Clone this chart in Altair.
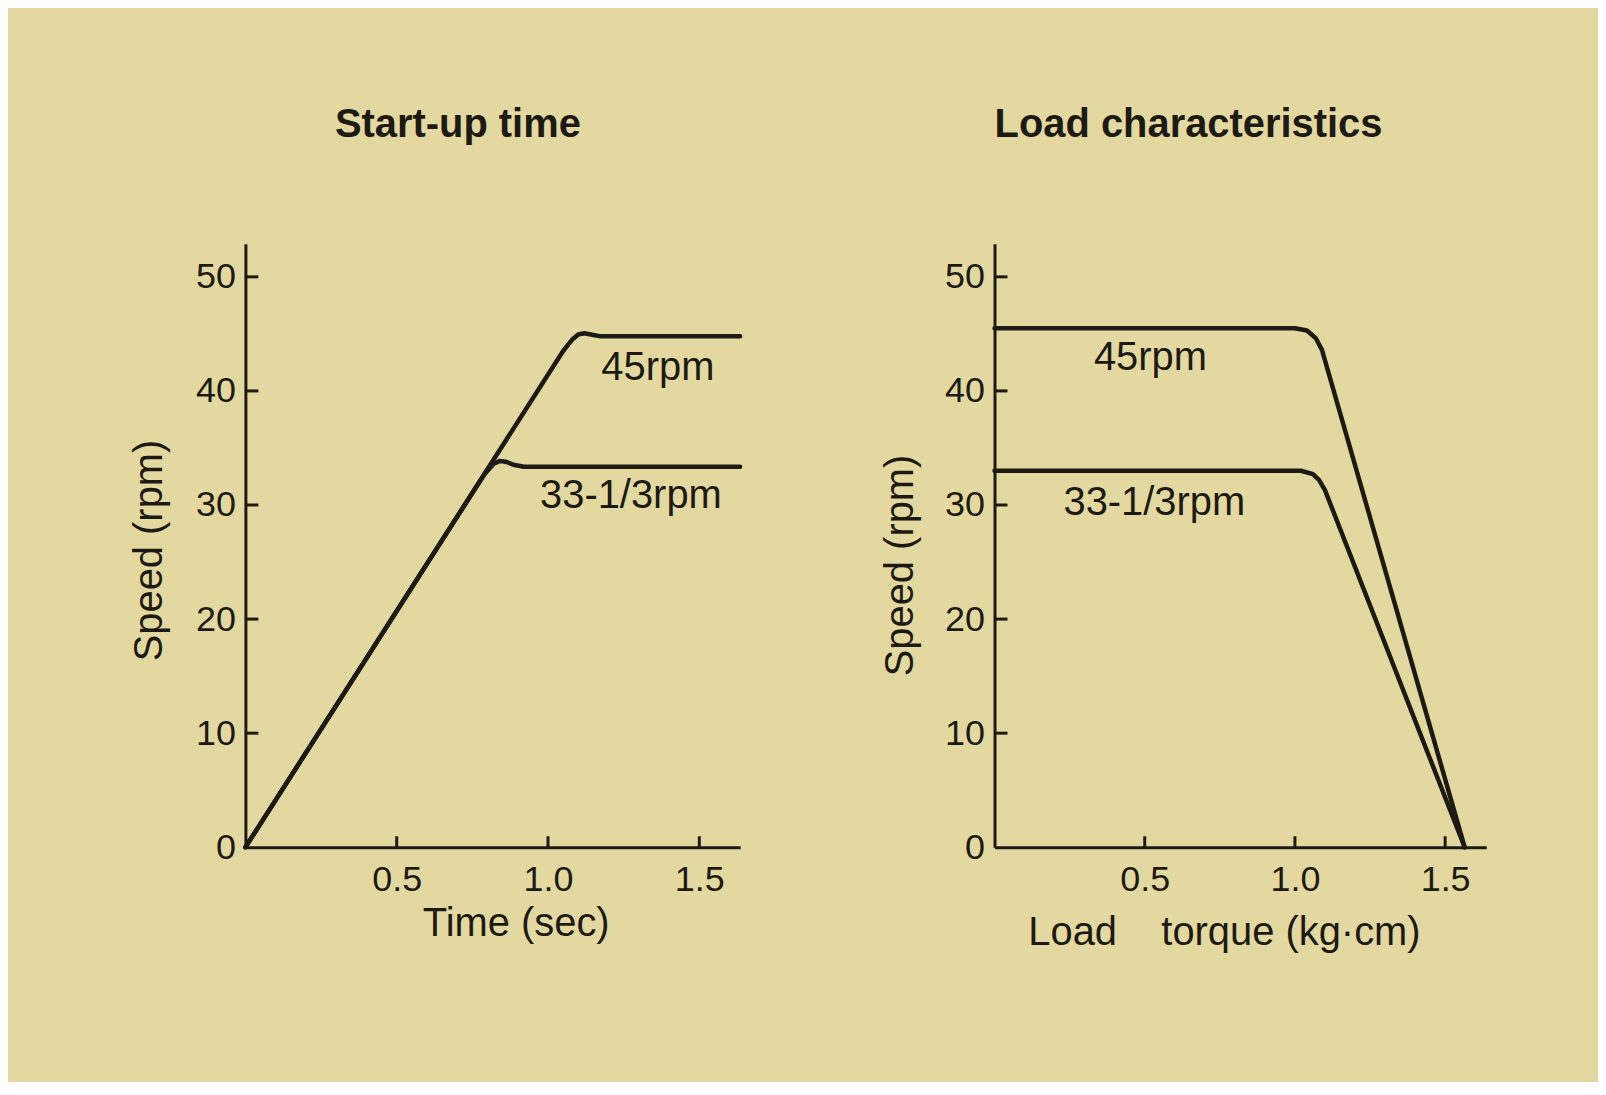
import altair as alt
import pandas as pd

# ---- data ----
# Start-up time (time in sec, speed in rpm)
startup_t_45 = [0, 1.05, 1.08, 1.10, 1.12, 1.15, 1.17, 1.635]
startup_s_45 = [0, 43.5, 44.5, 44.95, 45.05, 44.9, 44.8, 44.8]
startup_t_33 = [0, 0.79, 0.82, 0.84, 0.86, 0.89, 0.92, 1.635]
startup_s_33 = [0, 32.7, 33.6, 33.85, 33.8, 33.5, 33.35, 33.35]

# Load characteristics (load torque in kg·cm, speed in rpm)
load_x_45 = [0, 1.00, 1.04, 1.07, 1.09, 1.565]
load_s_45 = [45.5, 45.5, 45.3, 44.6, 43.6, 0]
load_x_33 = [0, 1.02, 1.06, 1.08, 1.10, 1.565]
load_s_33 = [33.0, 33.0, 32.7, 32.2, 31.3, 0]

series_names = ["45rpm", "33-1/3rpm"]
y_tick_values = [0, 10, 20, 30, 40, 50]
x_tick_values = [0.5, 1.0, 1.5]

# label anchors (x in data units; y taken from each series' plateau)
startup_label_x = [1.363, 1.274]
load_label_x = [0.519, 0.532]

INK = "#1d1a14"
BG = "#e3d9a0"
FONT = "Liberation Sans"
W_L, W_R, H = 496, 493, 605
Y_MAX = 52.9


def make_df(xs, ys, name):
    return pd.DataFrame({"x": xs, "y": ys, "series": name})


def panel(title, title_dx, w, x_max, series, plateau_idx, label_x, label_dy,
          x_title, x_title_x, x_title_y, y_title_x, y_title_y):
    xs = alt.Scale(domain=[0, x_max], nice=False, zero=False)
    ys = alt.Scale(domain=[0, Y_MAX], nice=False, zero=False)
    x_axis = alt.Axis(values=x_tick_values, format=".1f", title=x_title, ticks=False,
                      grid=False, domainColor=INK, domainWidth=3, labelFont=FONT,
                      labelFontSize=36, labelColor=INK, labelPadding=15,
                      labelOverlap=False, labelFlush=False,
                      titleFont=FONT, titleFontSize=40, titleFontWeight="normal",
                      titleColor=INK, titleX=x_title_x, titleY=x_title_y,
                      titleBaseline="alphabetic", titleAlign="center")
    y_axis = alt.Axis(values=y_tick_values, format="d", title="Speed (rpm)", ticks=False,
                      grid=False, domainColor=INK, domainWidth=3, labelFont=FONT,
                      labelFontSize=36, labelColor=INK, labelPadding=10,
                      labelOverlap=False, labelFlush=False,
                      titleFont=FONT, titleFontSize=40, titleFontWeight="normal",
                      titleColor=INK, titleX=y_title_x, titleY=y_title_y,
                      titleAngle=270, titleBaseline="middle", titleAlign="center")
    X = alt.X("x:Q", scale=xs, axis=x_axis)
    Y = alt.Y("y:Q", scale=ys, axis=y_axis)

    df = pd.concat([make_df(a, b, n) for (a, b), n in zip(series, series_names)])
    lines = alt.Chart(df).mark_line(color=INK, strokeWidth=4.5, strokeJoin="round",
                                    strokeCap="round").encode(x=X, y=Y, detail="series:N")

    ytk = alt.Chart(pd.DataFrame({"y": y_tick_values[1:]})).mark_rule(
        color=INK, strokeWidth=3).encode(y=Y, x=alt.value(0), x2=alt.value(13))
    xtk = alt.Chart(pd.DataFrame({"x": x_tick_values})).mark_rule(
        color=INK, strokeWidth=3).encode(x=X, y=alt.value(H), y2=alt.value(H - 11))

    layers = [lines, ytk, xtk]
    for (a, b), n, lx, dy in zip(series, series_names, label_x, label_dy):
        ldf = pd.DataFrame({"x": [lx], "y": [b[plateau_idx]], "label": [n]})
        layers.append(alt.Chart(ldf).mark_text(font=FONT, fontSize=40, color=INK,
                                               align="center", baseline="middle", dy=dy)
                      .encode(x=X, y=Y, text="label:N"))

    return alt.layer(*layers).properties(
        width=w, height=H,
        title=alt.TitleParams(title, font=FONT, fontSize=40, fontWeight="bold",
                              color=INK, anchor="middle", dx=title_dx, offset=67,
                              baseline="alphabetic"))


left = panel("Start-up time", -35, W_L, 1.635,
             [(startup_t_45, startup_s_45), (startup_t_33, startup_s_33)], -1,
             startup_label_x, [32, 29],
             "Time (sec)", 271, 88, -96, 307)
right = panel("Load characteristics", -52, W_R, 1.637,
              [(load_x_45, load_s_45), (load_x_33, load_s_33)], 0,
              load_label_x, [30, 32],
              "Load\u00a0\u00a0\u00a0\u00a0torque (kg\u00b7cm)", 230, 98, -94, 322)

chart = alt.hconcat(left, right, spacing=138).properties(
    padding={"left": 122, "top": 96, "right": 112, "bottom": 128},
    background=BG,
).configure_view(stroke=None)

chart.save("out.html", embed_options={"renderer": "svg", "actions": False})
